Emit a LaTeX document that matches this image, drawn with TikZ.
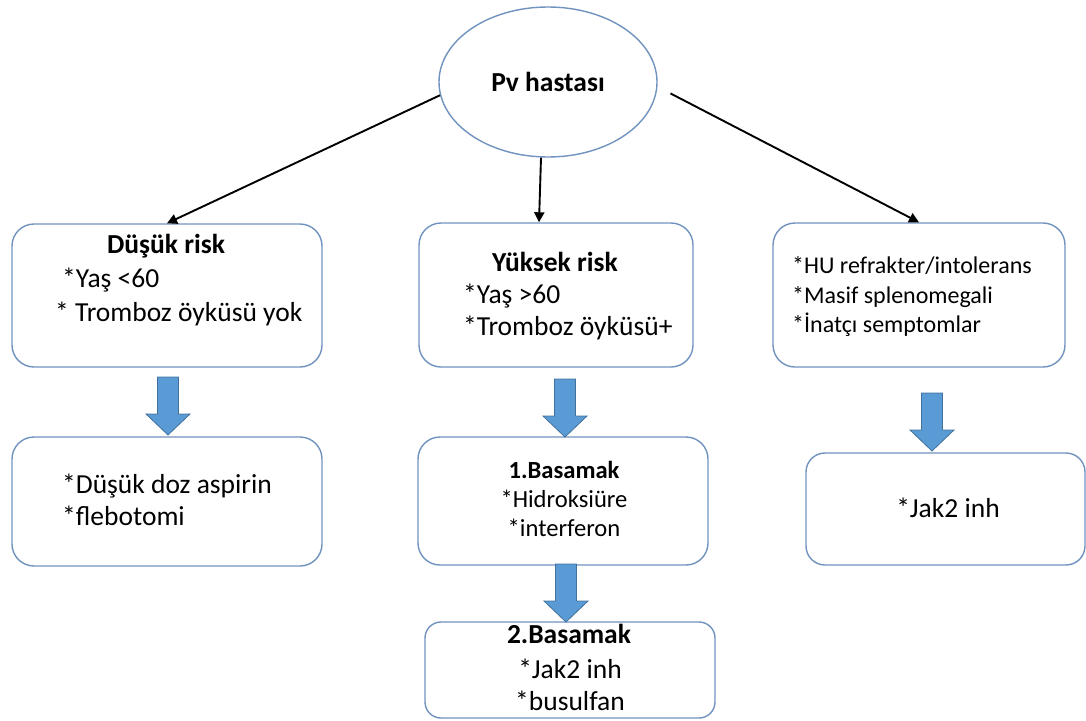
\documentclass[tikz,border=0pt]{standalone}
\usepackage{fontspec}
\setmainfont{Carlito}
\usepackage{tikz}
\usetikzlibrary{positioning,arrows.meta,shapes.geometric,calc}
\definecolor{cEdge}{HTML}{7092BE}
\definecolor{cBlk} {HTML}{5B9BD5}
\definecolor{cBlkE}{HTML}{41719C}
\tikzset{
  >={Triangle[length=10pt,width=10pt]},
  kutu/.style={draw=cEdge,line width=1.4pt,rounded corners=22pt,inner sep=0pt,align=center},
  kok/.style ={draw=cEdge,line width=1.4pt,ellipse,minimum width=218pt,minimum height=150pt,
               inner sep=0pt,font=\fontsize{27.5}{33}\selectfont\bfseries},
  yazi/.style={inner sep=0pt},
  kucuk/.style={yazi,font=\fontsize{24.6}{30}\selectfont},
  ok/.style  ={->,line width=1.9pt,black},
  blok/.pic  ={\draw[fill=cBlk,draw=cBlkE,line width=0.8pt]
               (-10.5,0) -- (10.5,0) -- (10.5,37) -- (22,37) -- (0,58) -- (-22,37) -- (-10.5,37) -- cycle;},
}
\begin{document}
\begin{tikzpicture}[x=1pt,y=-1pt,font=\fontsize{27.5}{33}\selectfont]
    \useasboundingbox (0,0) rectangle (1086,720);
    \node[kok] (pv) at (548,82) {Pv hastası};
    % risk boxes
    \node[kutu,minimum width=310pt,minimum height=143pt] (dusuk) at (167,295.5) {};
    \node[kutu,minimum width=274pt,minimum height=144pt] (yuksek) at (556,295) {};
    \node[kutu,minimum width=292pt,minimum height=144pt] (sag) at (919,295) {};
    \node[yazi,anchor=base] (dusukB) at (166,253) {\bfseries Düşük risk};
    \node[yazi,anchor=base west] (dusuk1) at (62,287) {*Yaş <60};
    \node[yazi,anchor=base west] (dusuk2) at (55,321) {* Tromboz öyküsü yok};
    \node[yazi,anchor=base] (yuksekB) at (555,271) {\bfseries Yüksek risk};
    \node[yazi,anchor=base west] (yuksek1) at (463,303) {*Yaş >60};
    \node[yazi,anchor=base west] (yuksek2) at (463,335) {*Tromboz öyküsü+};
    \node[kucuk,anchor=base west,font=\fontsize{24}{29}\selectfont] (sag1) at (792,273) {*HU refrakter/intolerans};
    \node[kucuk,anchor=base west,font=\fontsize{24}{29}\selectfont] (sag2) at (792,303) {*Masif splenomegali};
    \node[kucuk,anchor=base west,font=\fontsize{24}{29}\selectfont] (sag3) at (792,332) {*İnatçı semptomlar};
    % treatment boxes
    \node[kutu,minimum width=310pt,minimum height=129pt] (aspirin) at (167,501.5) {};
    \node[yazi,anchor=base west] (aspirin1) at (62,493) {*Düşük doz aspirin};
    \node[yazi,anchor=base west] (aspirin2) at (62,525) {*flebotomi};
    \node[kutu,minimum width=290pt,minimum height=128pt] (bas1) at (563,501) {};
    \node[kucuk,anchor=base,font=\fontsize{24.6}{30}\selectfont\bfseries] (bas1B) at (564,478) {1.Basamak};
    \node[kucuk,anchor=base] (bas11) at (564,507) {*Hidroksiüre};
    \node[kucuk,anchor=base] (bas12) at (564,536) {*interferon};
    \node[kutu,rounded corners=16pt,minimum width=290pt,minimum height=96pt] (bas2) at (570,670) {};
    \node[yazi,anchor=base] (bas2B) at (569,643) {\bfseries 2.Basamak};
    \node[yazi,anchor=base] (bas21) at (570,678) {*Jak2 inh};
    \node[yazi,anchor=base] (bas22) at (570,710) {*busulfan};
    \node[kutu,rounded corners=19pt,minimum width=279pt,minimum height=112pt] (jak) at (945.5,509) {};
    \node[yazi,anchor=base] (jak1) at (948,517) {*Jak2 inh};
    % connectors
    \draw[ok] (pv.187) -- (dusuk.north);
    \draw[ok] ([xshift=-7pt]pv.south) -- ([xshift=-17pt]yuksek.north);
    \draw[ok] ([xshift=14pt]pv.354) -- (sag.north);
    \pic at (168,377) {blok};
    \pic at (565,379) {blok};
    \pic at (566,564) {blok};
    \pic at (932,393) {blok};
\end{tikzpicture}
\end{document}
